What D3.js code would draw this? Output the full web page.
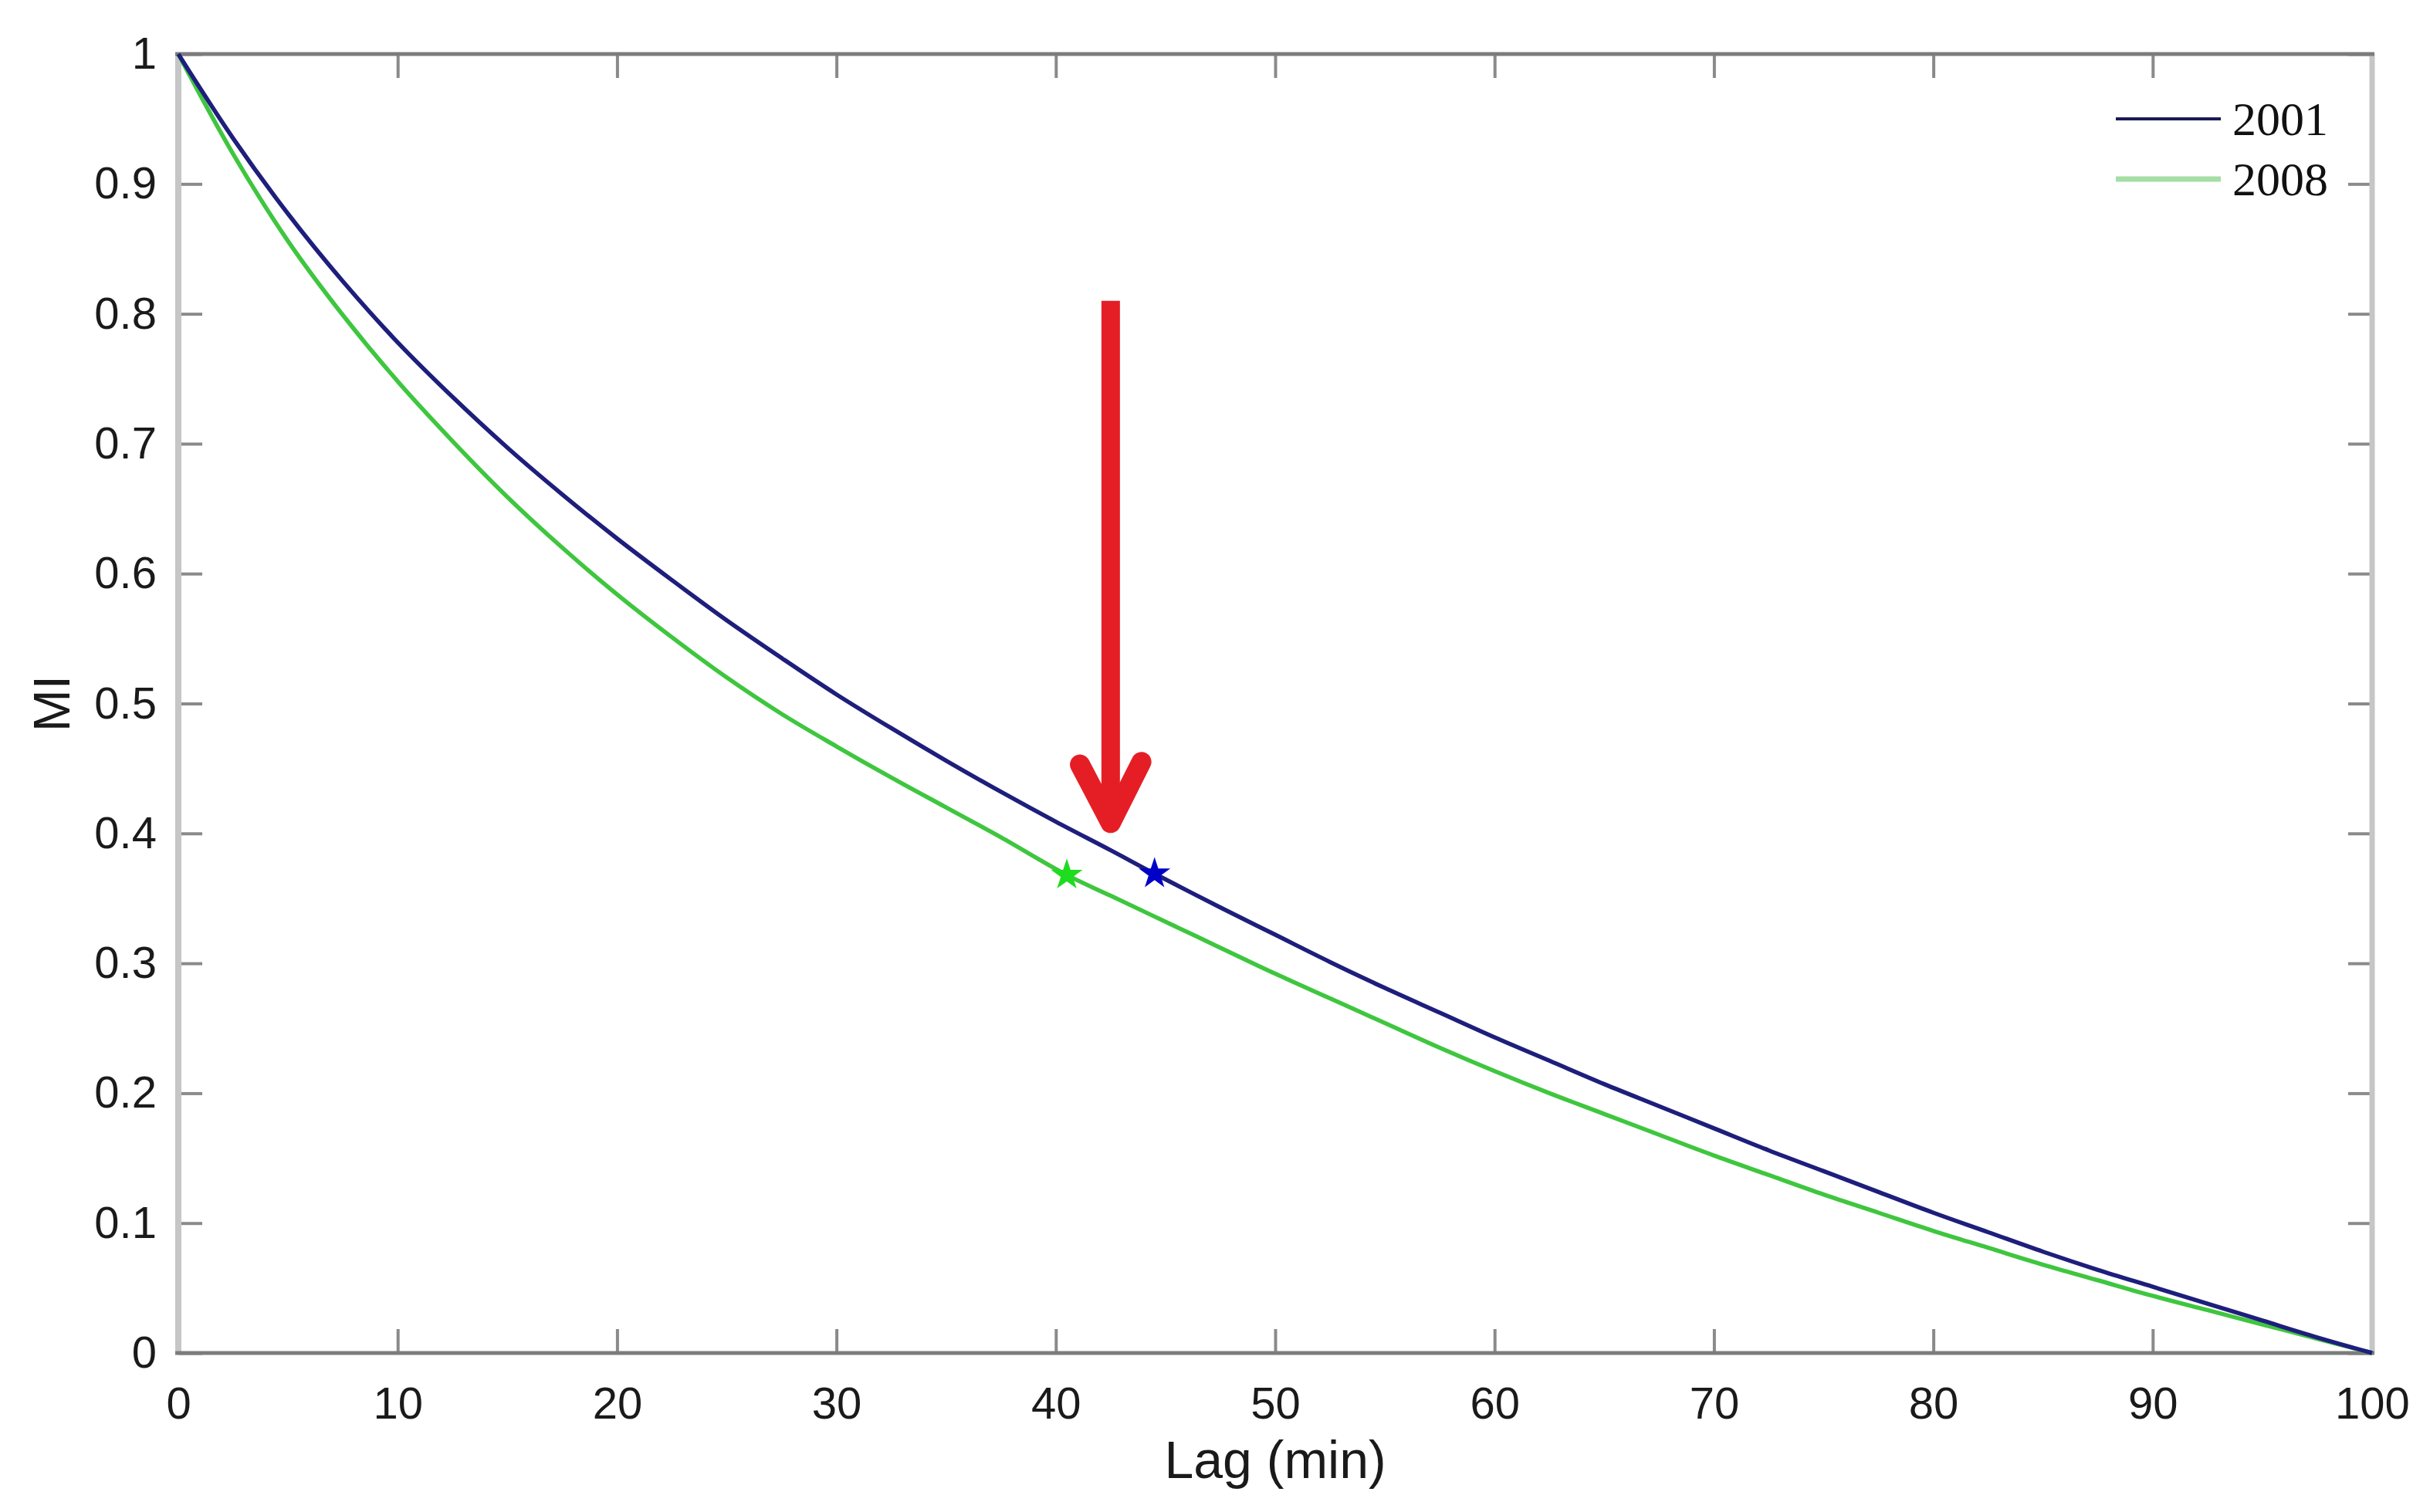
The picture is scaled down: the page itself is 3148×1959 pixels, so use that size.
<!DOCTYPE html>
<html>
<head>
<meta charset="utf-8">
<script src="https://cdn.jsdelivr.net/npm/d3@7"></script>
<style>
  body { margin: 0; background: #fff; }
  svg { display: block; }
</style>
</head>
<body>
<script>
// lag values (minutes) at which the curves were read
var lag2001 = [0, 2.5, 5, 7.5, 10, 12.5, 15, 17.5, 20, 22.5, 25, 27.5, 30, 32.5, 35, 37.5, 40, 42.5, 44.5,
    47.5, 50, 52.5, 55, 57.5, 60, 62.5, 65, 67.5, 70, 72.5, 75, 77.5, 80, 82.5, 85, 87.5, 90, 92.5, 95, 97.5, 100];
var mi2001 = [1, 0.935, 0.877, 0.825, 0.778, 0.736, 0.697, 0.661, 0.627, 0.595, 0.564, 0.535, 0.507, 0.481, 0.456, 0.432,
    0.409, 0.387, 0.369, 0.343, 0.322, 0.301, 0.281, 0.262, 0.243, 0.225, 0.207, 0.190, 0.173, 0.156, 0.140, 0.124,
    0.108, 0.093, 0.078, 0.064, 0.051, 0.038, 0.025, 0.012, 0];

var lag2008 = [0, 2.5, 5, 7.5, 10, 12.5, 15, 17.5, 20, 22.5, 25, 27.5, 30, 32.5, 35, 37.5, 40.5, 42.5, 45,
    47.5, 50, 52.5, 55, 57.5, 60, 62.5, 65, 67.5, 70, 72.5, 75, 77.5, 80, 82.5, 85, 87.5, 90, 92.5, 95, 97.5, 100];
var mi2008 = [1, 0.923, 0.856, 0.799, 0.748, 0.702, 0.659, 0.620, 0.584, 0.551, 0.520, 0.492, 0.467, 0.443, 0.420, 0.397,
    0.368, 0.352, 0.332, 0.312, 0.292, 0.273, 0.254, 0.235, 0.217, 0.200, 0.184, 0.168, 0.152, 0.137, 0.122, 0.108,
    0.094, 0.081, 0.068, 0.056, 0.044, 0.033, 0.022, 0.011, 0];

// starred points (MI = 1/e crossing)
var starLag = [44.5, 40.5];
var starMI = [0.369, 0.368];

// red arrow annotation (data units)
var arrowLag = 42.5, arrowTop = 0.81, arrowTip = 0.40;

var seriesNames = ["2001", "2008"];
var xTicks = [0, 10, 20, 30, 40, 50, 60, 70, 80, 90, 100];
var yTicks = [0, 0.1, 0.2, 0.3, 0.4, 0.5, 0.6, 0.7, 0.8, 0.9, 1];

var colors = ["#1e1e7c", "#3fc63f"];
var starColors = ["#0000c8", "#1edc1e"];

var W = 3148, H = 1959;
var margin = {top: 70, right: 75, bottom: 206, left: 231},
    width = W - margin.left - margin.right,
    height = H - margin.top - margin.bottom;

var x = d3.scaleLinear().domain([0, 100]).range([0, width]);
var y = d3.scaleLinear().domain([0, 1]).range([height, 0]);

var svg = d3.select("body").append("svg")
    .attr("width", W)
    .attr("height", H)
    .style("font-family", "'Liberation Sans', Arial, sans-serif");

svg.append("rect").attr("width", W).attr("height", H).attr("fill", "#fff");

var g = svg.append("g")
    .attr("transform", "translate(" + margin.left + "," + margin.top + ")");

// axes with inward ticks
var fmt = d3.format("~g");
function styleAxis(sel) {
  sel.select(".domain").remove();
  sel.selectAll(".tick line").attr("stroke", "#8a8a8a").attr("stroke-width", 4);
  sel.selectAll(".tick text").attr("fill", "#1a1a1a").style("font-size", "58px")
     .style("font-family", "'Liberation Sans', Arial, sans-serif");
}

g.append("g")
    .attr("transform", "translate(0," + height + ")")
    .call(d3.axisBottom(x).tickValues(xTicks).tickSize(-31).tickPadding(44).tickFormat(fmt))
    .call(styleAxis);

g.append("g")
    .call(d3.axisTop(x).tickValues(xTicks).tickSize(-31).tickFormat(""))
    .call(styleAxis);

g.append("g")
    .call(d3.axisLeft(y).tickValues(yTicks).tickSize(-31).tickPadding(28).tickFormat(fmt))
    .call(styleAxis);

g.append("g")
    .attr("transform", "translate(" + width + ",0)")
    .call(d3.axisRight(y).tickValues(yTicks).tickSize(-31).tickFormat(""))
    .call(styleAxis);

// frame: light grey sides, darker top/bottom
g.append("line").attr("x1", 0).attr("x2", 0).attr("y1", 0).attr("y2", height)
    .attr("stroke", "#c6c6c6").attr("stroke-width", 8);
g.append("line").attr("x1", width).attr("x2", width).attr("y1", 0).attr("y2", height)
    .attr("stroke", "#c6c6c6").attr("stroke-width", 7);
g.append("line").attr("x1", -4).attr("x2", width + 3).attr("y1", 0).attr("y2", 0)
    .attr("stroke", "#7c7c7c").attr("stroke-width", 5);
g.append("line").attr("x1", -4).attr("x2", width + 3).attr("y1", height).attr("y2", height)
    .attr("stroke", "#7c7c7c").attr("stroke-width", 5);

// curves
var line = d3.line()
    .x(function(d) { return x(d[0]); })
    .y(function(d) { return y(d[1]); })
    .curve(d3.curveCatmullRom.alpha(0.5));

var series = [d3.zip(lag2001, mi2001), d3.zip(lag2008, mi2008)];

// draw green first so blue sits on top at the shared ends
[1, 0].forEach(function(i) {
  g.append("path")
      .datum(series[i])
      .attr("fill", "none")
      .attr("stroke", colors[i])
      .attr("stroke-width", 5.5)
      .attr("d", line);
});

// star markers
starLag.forEach(function(t, i) {
  g.append("path")
      .attr("d", d3.symbol().type(d3.symbolStar).size(520))
      .attr("transform", "translate(" + x(t) + "," + y(starMI[i]) + ")")
      .attr("fill", starColors[i]);
});

// red arrow
var red = "#e51e26";
g.append("line")
    .attr("x1", x(arrowLag)).attr("x2", x(arrowLag))
    .attr("y1", y(arrowTop)).attr("y2", y(arrowTip + 0.01))
    .attr("stroke", red).attr("stroke-width", 24).attr("stroke-linecap", "butt");
g.append("path")
    .attr("d", "M" + x(arrowLag - 1.4) + "," + y(arrowTip + 0.053) +
               "L" + x(arrowLag) + "," + y(arrowTip + 0.008) +
               "L" + x(arrowLag + 1.4) + "," + y(arrowTip + 0.055))
    .attr("fill", "none")
    .attr("stroke", red).attr("stroke-width", 26)
    .attr("stroke-linecap", "round").attr("stroke-linejoin", "round");

// legend
var legend = g.append("g").attr("transform", "translate(" + (width - 332) + ",84)");
var legendColors = ["#1a1a55", "#a6dea6"];
var legendWidths = [4, 7];
seriesNames.forEach(function(name, i) {
  var row = legend.append("g").attr("transform", "translate(0," + (i * 78) + ")");
  row.append("line").attr("x1", 0).attr("x2", 136).attr("y1", 0).attr("y2", 0)
      .attr("stroke", legendColors[i]).attr("stroke-width", legendWidths[i]);
  row.append("text")
      .attr("x", 151).attr("y", 21)
      .style("font-family", "'Liberation Serif', 'Times New Roman', serif")
      .style("font-size", "62px")
      .attr("fill", "#111")
      .text(name);
});

// axis labels
g.append("text")
    .attr("x", width / 2)
    .attr("y", height + 162)
    .attr("text-anchor", "middle")
    .style("font-size", "68px")
    .attr("fill", "#1a1a1a")
    .text("Lag (min)");

g.append("text")
    .attr("transform", "rotate(-90)")
    .attr("x", -(y(0.5)))
    .attr("y", -margin.left + 90)
    .attr("text-anchor", "middle")
    .style("font-size", "66px")
    .attr("fill", "#1a1a1a")
    .text("MI");
</script>
</body>
</html>
